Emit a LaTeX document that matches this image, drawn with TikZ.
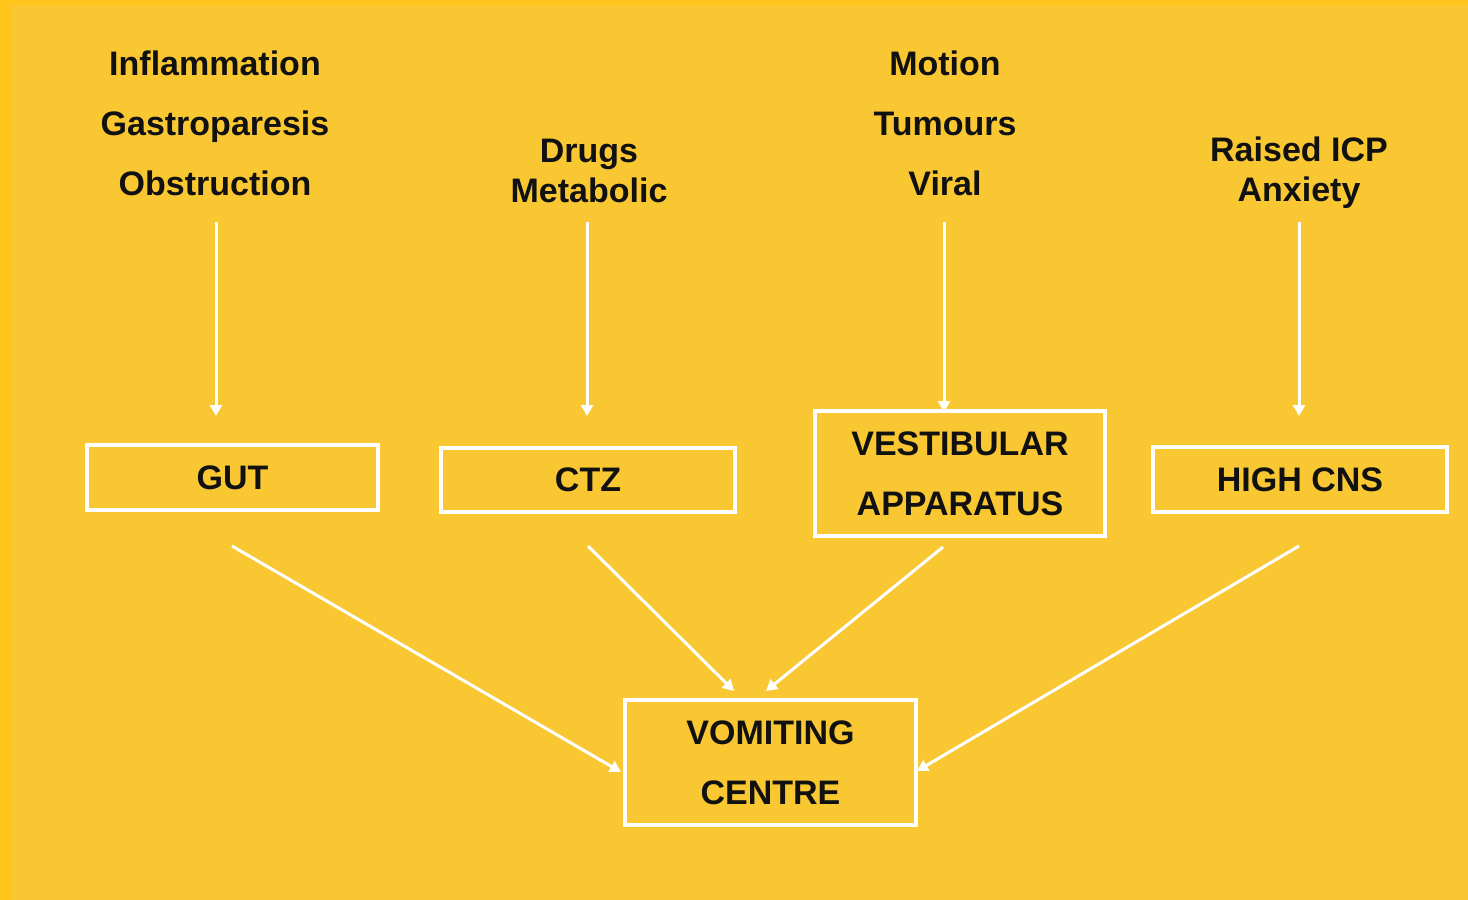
\documentclass[tikz,border=0pt]{standalone}
\usepackage{fontspec}
\setmainfont{Liberation Sans}
\usetikzlibrary{arrows.meta}
\definecolor{bgyellow}{RGB}{249,199,50}
\definecolor{edgeyellow}{RGB}{255,197,28}
\definecolor{txt}{RGB}{17,17,17}
\begin{document}
\begin{tikzpicture}[x=1pt,y=-1pt,
  cause/.style={align=center,inner sep=0pt,text=txt,font=\bfseries\fontsize{34}{60}\selectfont},
  cause2/.style={align=center,inner sep=0pt,text=txt,font=\bfseries\fontsize{34}{40}\selectfont},
  organ/.style={draw=white,line width=3.5pt,inner sep=0pt,align=center,text=txt,
    font=\bfseries\fontsize{34}{60}\selectfont},
  flow/.style={draw=white,line width=3pt,-{Triangle[width=12pt,length=11pt]}}]
\fill[bgyellow] (0,0) rectangle (1468,900);
\useasboundingbox (0,0) rectangle (1468,900);
\fill[edgeyellow] (0,0) rectangle (1468,5);
\fill[edgeyellow] (0,0) rectangle (12,900);
% causes
\node[cause] (c1) at (215,123) {Inflammation\\Gastroparesis\\Obstruction};
\node[cause2] (c2) at (589,171) {Drugs\\Metabolic};
\node[cause] (c3) at (945,123) {Motion\\Tumours\\Viral};
\node[cause2] (c4) at (1299,173) {Raised ICP\\Anxiety};
% boxes
\node[organ,minimum width=291pt,minimum height=65pt] (gut) at (232.5,477.5) {GUT};
\node[organ,minimum width=294pt,minimum height=64pt] (ctz) at (588,480) {CTZ};
\node[organ,minimum width=290pt,minimum height=125pt] (vest) at (960,473.5) {VESTIBULAR\\APPARATUS};
\node[organ,minimum width=294pt,minimum height=65pt] (cns) at (1300,479.5) {HIGH CNS};
\node[organ,minimum width=291pt,minimum height=125pt] (vc) at (770.5,762.5) {VOMITING\\CENTRE};
% connector end points
\coordinate (c1out) at (216,222);
\coordinate (gutin) at (216,416);
\coordinate (c2out) at (587,222);
\coordinate (ctzin) at (587,416);
\coordinate (c3out) at (944,222);
\coordinate (vestin) at (944,412);
\coordinate (c4out) at (1299,222);
\coordinate (cnsin) at (1299,416);
\coordinate (gutout) at (232,546);
\coordinate (ctzout) at (588,546);
\coordinate (vestout) at (943,547);
\coordinate (cnsout) at (1299,546);
\coordinate (vcin1) at (621,772);
\coordinate (vcin2) at (734,691);
\coordinate (vcin3) at (766,691);
\coordinate (vcin4) at (917,771);
% connectors
\draw[flow] (c1out) -- (gutin);
\draw[flow] (c2out) -- (ctzin);
\draw[flow] (c3out) -- (vestin);
\draw[flow] (c4out) -- (cnsin);
\draw[flow] (gutout) -- (vcin1);
\draw[flow] (ctzout) -- (vcin2);
\draw[flow] (vestout) -- (vcin3);
\draw[flow] (cnsout) -- (vcin4);
\end{tikzpicture}
\end{document}
